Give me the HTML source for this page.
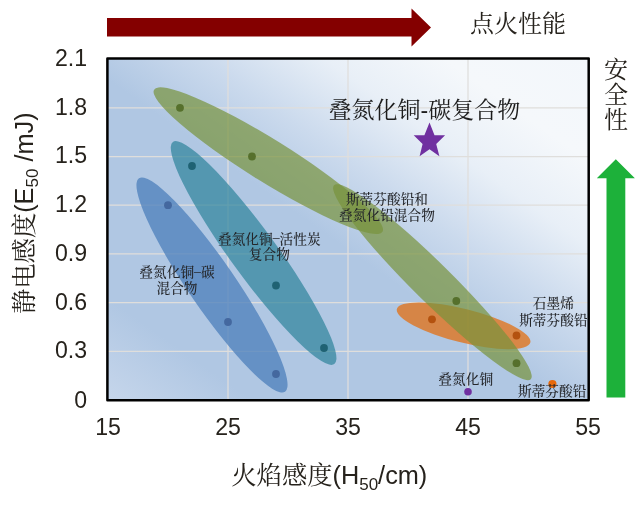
<!DOCTYPE html>
<html lang="zh-CN">
<head>
<meta charset="utf-8">
<title>静电感度与火焰感度</title>
<style>
html,body{margin:0;padding:0;background:#fff;}
body{width:640px;height:505px;overflow:hidden;position:relative;}
svg{position:absolute;left:0;top:0;display:block;will-change:transform;}
.num{font-family:"Liberation Sans",sans-serif;font-size:23.1px;fill:#26221c;}
.ax{font-family:"Liberation Sans","Noto Serif CJK SC",serif;fill:#26221c;}
.big{font-family:"Liberation Sans","Noto Serif CJK SC",serif;font-size:23px;fill:#1c1c1c;}
.sm{font-family:"Liberation Serif","Noto Serif CJK SC",serif;font-size:13.7px;fill:#24262a;font-weight:500;}
</style>
</head>
<body>
<svg width="640" height="505" viewBox="0 0 640 505">
  <defs>
    <linearGradient id="bg" x1="0" y1="1" x2="1" y2="0">
      <stop offset="0" stop-color="#c6d6eb"/>
      <stop offset="0.15" stop-color="#b0c7e3"/>
      <stop offset="0.47" stop-color="#b0c7e3"/>
      <stop offset="0.6" stop-color="#cbdaed"/>
      <stop offset="0.725" stop-color="#e8eff7"/>
      <stop offset="0.85" stop-color="#f5f8fb"/>
      <stop offset="1" stop-color="#f3f7fb"/>
    </linearGradient>
    <clipPath id="pc"><rect x="107.4" y="58.6" width="481.3" height="341.6"/></clipPath>
  </defs>

  <!-- top arrow -->
  <polygon points="107,18 411.5,18 411.5,8.4 431,27.4 411.5,46.4 411.5,36.6 107,36.6" fill="#840000"/>
  <!-- right arrow -->
  <polygon points="606.5,397.5 606.5,178.3 596.8,178.3 615.8,159.3 634.9,178.3 625.3,178.3 625.3,397.5" fill="#1db13a"/>

  <!-- plot background -->
  <rect id="plotbg" x="107.4" y="58.6" width="481.3" height="341.6" fill="url(#bg)"/>

  <!-- grid -->
  <g stroke="#dfdedc" stroke-width="1.25" fill="none" id="grid">
    <path d="M108 351.3H588.5M108 302.6H588.5M108 253.9H588.5M108 205.2H588.5M108 156.5H588.5M108 107.8H588.5"/>
    <path d="M228 58.5V400M348 58.5V400M468 58.5V400"/>
  </g>

  <g clip-path="url(#pc)">
    <!-- ellipses -->
    <ellipse cx="212" cy="285" rx="129.3" ry="23.4" transform="rotate(55.6 212 285)" fill="#4f81bd" fill-opacity="0.78"/>
    <ellipse cx="253.6" cy="253" rx="137.3" ry="23.1" transform="rotate(54 253.6 253)" fill="#31859c" fill-opacity="0.72"/>
    <ellipse cx="463.6" cy="325.8" rx="68.8" ry="16.8" transform="rotate(14.1 463.6 325.8)" fill="#e46c0a" fill-opacity="0.72"/>
    <ellipse cx="268.3" cy="160.7" rx="134.5" ry="21.3" transform="rotate(31.9 268.3 160.7)" fill="#77933c" fill-opacity="0.7"/>
    <ellipse cx="432.4" cy="282.2" rx="138.2" ry="19.3" transform="rotate(44.6 432.4 282.2)" fill="#77933c" fill-opacity="0.7"/>
  </g>

  <!-- dots -->
  <g fill="#56702c">
    <circle cx="180" cy="107.8" r="3.9"/><circle cx="252" cy="156.5" r="3.9"/><circle cx="456.3" cy="301" r="3.9"/><circle cx="516.5" cy="363.2" r="3.9"/>
  </g>
  <g fill="#1f6273">
    <circle cx="192" cy="166" r="3.9"/><circle cx="276" cy="285.5" r="3.9"/><circle cx="324" cy="348" r="3.9"/>
  </g>
  <g fill="#44689f">
    <circle cx="168" cy="205.2" r="3.9"/><circle cx="228" cy="322" r="3.9"/><circle cx="276" cy="374" r="3.9"/>
  </g>
  <g fill="#b4520f">
    <circle cx="432" cy="319.3" r="3.9"/><circle cx="516.5" cy="335.5" r="3.9"/>
  </g>
  <circle cx="552.4" cy="384" r="4.1" fill="#e8690b"/>
  <circle cx="468" cy="391.8" r="3.8" fill="#7030a0"/>

  <!-- star -->
  <polygon points="429.5,122.5 434.5,135.2 445.1,135.2 436.2,143.9 439.4,156.3 429.5,149.2 419.6,156.3 422.6,143.9 413.7,135.2 424.4,135.2" fill="#7030a0"/>

  <!-- frame -->
  <rect x="107.4" y="58.6" width="481.3" height="341.6" fill="none" stroke="#000" stroke-width="2.5" stroke-linejoin="round"/>

  <!-- y ticks -->
  <g class="num" text-anchor="end">
    <text x="87" y="65.8">2.1</text>
    <text x="87" y="114.7">1.8</text>
    <text x="87" y="163.4">1.5</text>
    <text x="87" y="212.1">1.2</text>
    <text x="87" y="260.8">0.9</text>
    <text x="87" y="309.5">0.6</text>
    <text x="87" y="358.2">0.3</text>
    <text x="87" y="407.7">0</text>
  </g>
  <!-- x ticks -->
  <g class="num" text-anchor="middle">
    <text x="108" y="435.2">15</text>
    <text x="228" y="435.2">25</text>
    <text x="348" y="435.2">35</text>
    <text x="468" y="435.2">45</text>
    <text x="588" y="435.2">55</text>
  </g>

  <!-- axis titles -->
  <text class="ax" font-size="25.3" x="231.3" y="484">火焰感度(H<tspan font-size="17" dy="5.5">50</tspan><tspan dy="-5.5">/cm)</tspan></text>
  <text class="ax" font-size="25.3" transform="translate(32.8 314) rotate(-90)">静电感度(E<tspan font-size="17" dy="5.5">50</tspan><tspan dy="-5.5"> /mJ)</tspan></text>

  <!-- top / right captions -->
  <text class="ax" font-size="24" x="470" y="32">点火性能</text>
  <g class="ax" font-size="24" text-anchor="middle">
    <text x="616" y="77.5">安</text>
    <text x="616" y="102.8">全</text>
    <text x="616" y="127.8">性</text>
  </g>

  <!-- labels -->
  <text class="big" x="328.5" y="118">叠氮化铜-碳复合物</text>
  <g class="sm" text-anchor="middle">
    <text x="177" y="277">叠氮化铜<tspan dy="-1.5">–</tspan><tspan dy="1.5">碳</tspan></text>
    <text x="177" y="293">混合物</text>
    <text x="269.3" y="243.5">叠氮化铜<tspan dy="-1.5">–</tspan><tspan dy="1.5">活性炭</tspan></text>
    <text x="269.3" y="259">复合物</text>
    <text x="387" y="203.6">斯蒂芬酸铅和</text>
    <text x="387" y="219.8">叠氮化铅混合物</text>
    <text x="553.3" y="308">石墨烯</text>
    <text x="553.4" y="324.7">斯蒂芬酸铅</text>
    <text x="465.7" y="383.8">叠氮化铜</text>
    <text x="552.2" y="396">斯蒂芬酸铅</text>
  </g>
</svg>
</body>
</html>
